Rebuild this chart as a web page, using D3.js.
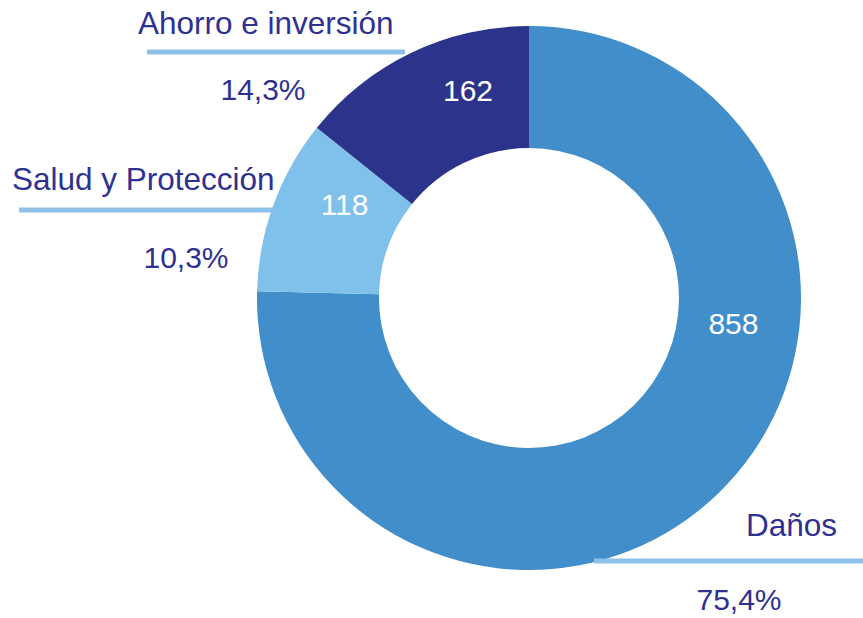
<!DOCTYPE html>
<html>
<head>
<meta charset="utf-8">
<script src="https://cdn.jsdelivr.net/npm/d3@7"></script>
<style>
  body { margin: 0; background: #fff; }
  text { font-family: "Liberation Sans", Arial, sans-serif; }
</style>
</head>
<body>
<script>
// data
const categories = ['Daños', 'Salud y Protección', 'Ahorro e inversión'];
const values = [858, 118, 162];
const percents = ['75,4%', '10,3%', '14,3%'];
const colors = ['#418ecb', '#7fc1ea', '#2c338b'];

const width = 863, height = 618;
const cx = 529, cy = 298;
const outerR = 272, innerR = 150;

const svg = d3.select('body').append('svg')
    .attr('width', width)
    .attr('height', height);

const pie = d3.pie().sort(null).value(d => d.value);
const arc = d3.arc().innerRadius(innerR).outerRadius(outerR);

const slices = pie(categories.map((c, i) => ({ name: c, value: values[i], pct: percents[i], color: colors[i] })));

const g = svg.append('g').attr('transform', `translate(${cx},${cy})`);

g.selectAll('path')
    .data(slices)
    .enter()
  .append('path')
    .attr('d', arc)
    .attr('fill', d => d.data.color);

// value labels inside the ring (angle in degrees from top, radius)
const valuePos = [[97, 206], [297, 207], [343.6, 216]];
g.selectAll('text.val')
    .data(slices)
    .enter()
  .append('text')
    .attr('class', 'val')
    .attr('x', (d, i) => valuePos[i][1] * Math.sin(valuePos[i][0] * Math.PI / 180))
    .attr('y', (d, i) => -valuePos[i][1] * Math.cos(valuePos[i][0] * Math.PI / 180))
    .attr('dy', '0.35em')
    .attr('text-anchor', 'middle')
    .attr('fill', '#fff')
    .style('font-size', '30px')
    .text(d => d.data.value);

// outside labels: name, underline, percentage
const outside = [
  { nameX: 837, nameY: 536, anchor: 'end', lineY: 561, x1: 594, x2: 863, pctX: 739, pctY: 610 },
  { nameX: 12, nameY: 190, anchor: 'start', lineY: 210, x1: 19, x2: 275, pctX: 186, pctY: 268 },
  { nameX: 138, nameY: 34, anchor: 'start', lineY: 52, x1: 147, x2: 405, pctX: 263, pctY: 100 }
];

const lab = svg.selectAll('g.lab')
    .data(slices)
    .enter()
  .append('g')
    .attr('class', 'lab');

lab.append('line')
    .attr('x1', (d, i) => outside[i].x1)
    .attr('x2', (d, i) => outside[i].x2)
    .attr('y1', (d, i) => outside[i].lineY)
    .attr('y2', (d, i) => outside[i].lineY)
    .attr('stroke', '#8dc0e8')
    .attr('stroke-width', 5);

lab.append('text')
    .attr('x', (d, i) => outside[i].nameX)
    .attr('y', (d, i) => outside[i].nameY)
    .attr('text-anchor', (d, i) => outside[i].anchor)
    .attr('fill', '#2e3192')
    .style('font-size', '31.5px')
    .text(d => d.data.name);

lab.append('text')
    .attr('x', (d, i) => outside[i].pctX)
    .attr('y', (d, i) => outside[i].pctY)
    .attr('text-anchor', 'middle')
    .attr('fill', '#2e3192')
    .style('font-size', '30px')
    .text(d => d.data.pct);
</script>
</body>
</html>
